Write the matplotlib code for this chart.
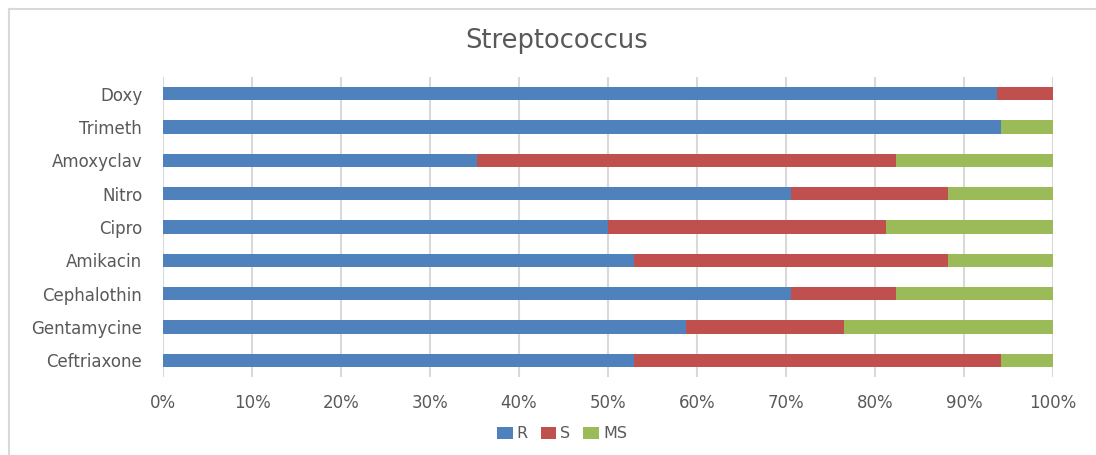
import matplotlib
matplotlib.use("Agg")
import matplotlib.pyplot as plt
from matplotlib.lines import Line2D
from matplotlib.ticker import FuncFormatter

plt.rcParams['font.family'] = ['DejaVu Sans']

# Susceptibility profile of Streptococcus isolates (percent of isolates)
antibiotics = ["Doxy", "Trimeth", "Amoxyclav", "Nitro", "Cipro",
               "Amikacin", "Cephalothin", "Gentamycine", "Ceftriaxone"]
resistant = [93.75, 94.12, 35.29, 70.59, 50.00, 52.94, 70.59, 58.82, 52.94]
sensitive = [6.25, 0.00, 47.06, 17.65, 31.25, 35.29, 11.76, 17.65, 41.18]
moderate = [0.00, 5.88, 17.65, 11.76, 18.75, 11.76, 17.65, 23.53, 5.88]
x_ticks = [0, 10, 20, 30, 40, 50, 60, 70, 80, 90, 100]

series = [("R", resistant, "#4F81BD"),
          ("S", sensitive, "#C0504D"),
          ("MS", moderate, "#9BBB59")]

text_color = "#595959"
grid_color = "#D9D9D9"

W, H = 1096, 455
fig = plt.figure(figsize=(W / 100, H / 100), dpi=100)
ax = fig.add_axes([163 / W, 1 - 377 / H, (1053 - 163) / W, 300 / H])

pos = list(range(len(antibiotics)))
left = [0.0] * len(antibiotics)
for name, vals, color in series:
    ax.barh(pos, vals, left=left, height=0.4, color=color, label=name,
            edgecolor="none", zorder=3)
    left = [a + b for a, b in zip(left, vals)]

ax.set_xlim(0, 100)
ax.set_ylim(len(antibiotics) - 0.5, -0.5)
ax.set_yticks(pos)
ax.set_yticklabels(antibiotics)
ax.set_xticks(x_ticks)
ax.xaxis.set_major_formatter(FuncFormatter(lambda v, _: f"{int(v)}%"))

ax.grid(axis="x", color=grid_color, linewidth=1.5, zorder=0)
for side in ax.spines.values():
    side.set_visible(False)
ax.tick_params(axis="both", length=0, colors=text_color, labelsize=12)
ax.tick_params(axis="x", pad=12)
ax.tick_params(axis="y", pad=15)

fig.text(557 / W, 1 - 41 / H, "Streptococcus", ha="center", va="center",
         fontsize=18.5, color=text_color)

leg = fig.legend(loc="center", bbox_to_anchor=(562 / W, 1 - 434 / H),
                 ncol=3, frameon=False, fontsize=11.5, handlelength=1.0,
                 handleheight=0.7, handletextpad=0.25, columnspacing=0.8,
                 labelcolor=text_color)

# outer chart frame (top and left edges)
fig.add_artist(Line2D([9 / W, 1], [1 - 9 / H, 1 - 9 / H], color=grid_color,
                      linewidth=1.5, transform=fig.transFigure))
fig.add_artist(Line2D([9 / W, 9 / W], [0, 1 - 9 / H], color=grid_color,
                      linewidth=1.5, transform=fig.transFigure))

fig.savefig("out.png", dpi=100, facecolor="white")
